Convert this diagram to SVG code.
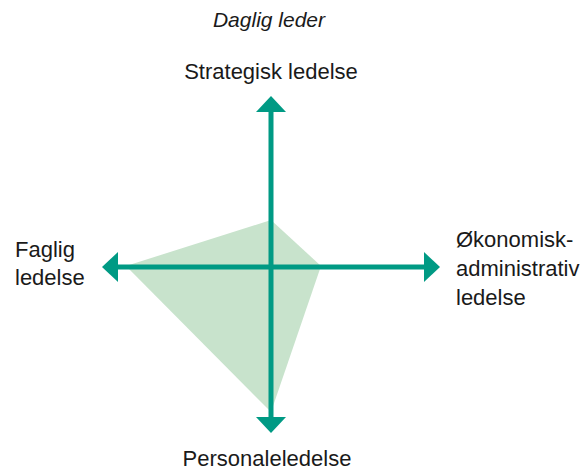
<svg xmlns="http://www.w3.org/2000/svg" width="584" height="471" viewBox="0 0 584 471">
  <style>
    .lbl { font-family: "Liberation Sans", Arial, Helvetica, sans-serif; font-size: 22px; fill: #1a1a1a; }
    .title { font-style: italic; font-size: 21px; }
    .axis { stroke: #009a84; stroke-width: 5; fill: none; }
  </style>
  <defs>
    <marker id="head" viewBox="0 0 16 30" refX="1" refY="15" markerWidth="16" markerHeight="30" markerUnits="userSpaceOnUse" orient="auto-start-reverse">
      <path d="M0,0 L16,15 L0,30 Z" fill="#009a84"/>
    </marker>
  </defs>
  <rect width="584" height="471" fill="#ffffff"/>
  <polygon id="profile" points="271,220 321,266 271,412 126,266" fill="#c8e3cc"/>
  <g id="connectors">
    <line class="axis" x1="271" y1="111" x2="271" y2="418" marker-start="url(#head)" marker-end="url(#head)"/>
    <line class="axis" x1="117" y1="267" x2="425" y2="267" marker-start="url(#head)" marker-end="url(#head)"/>
  </g>
  <g id="daglig-leder"><text class="lbl title" x="269" y="27" text-anchor="middle">Daglig leder</text></g>
  <g id="strategisk"><text class="lbl" x="271" y="79" text-anchor="middle">Strategisk ledelse</text></g>
  <g id="faglig"><text class="lbl" x="15" y="257">Faglig</text><text class="lbl" x="15" y="285">ledelse</text></g>
  <g id="okonomisk"><text class="lbl" x="456" y="247">Økonomisk-</text><text class="lbl" x="456" y="276">administrativ</text><text class="lbl" x="456" y="305">ledelse</text></g>
  <g id="personal"><text class="lbl" x="267" y="466" text-anchor="middle">Personaleledelse</text></g>
</svg>
